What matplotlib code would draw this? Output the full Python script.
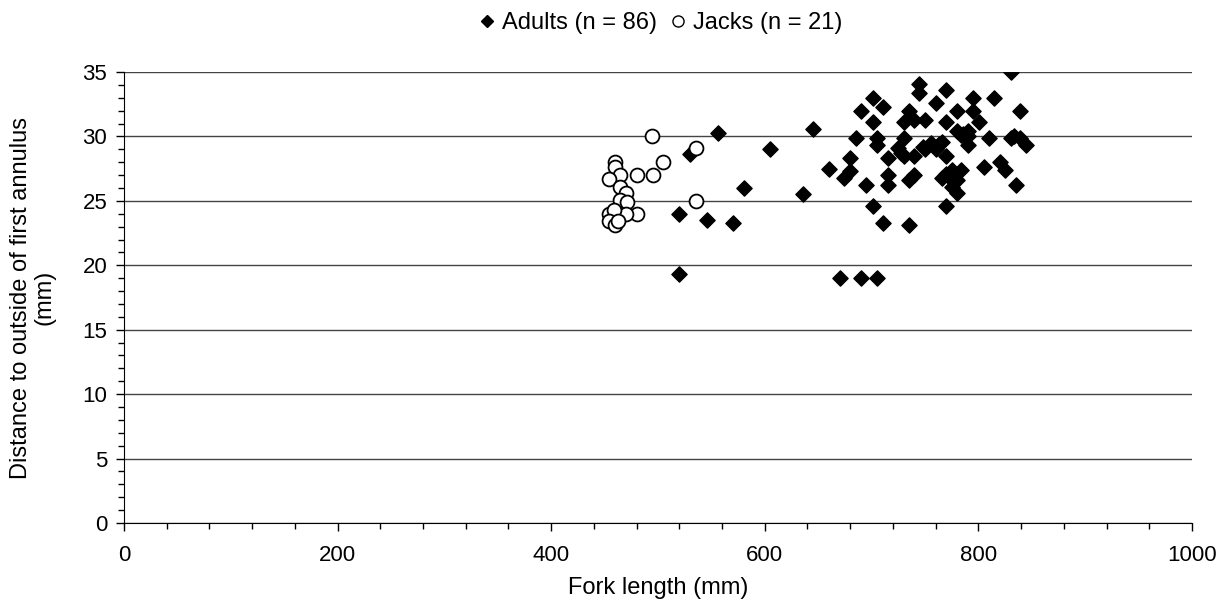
import matplotlib.pyplot as plt
from matplotlib.lines import Line2D
from matplotlib.ticker import MultipleLocator

plt.rcParams["font.family"] = ["Liberation Sans", "DejaVu Sans"]
plt.rcParams.update({'font.size': 16})

# Adults: fork length (mm) and distance to outside of first annulus (mm)
adult_fl = [556, 530, 605, 581, 520, 546, 570, 520, 636,
            645, 660, 674, 680, 680, 685, 690, 701, 701, 695, 701, 711, 705, 705,
            715, 715, 715, 711, 670, 690, 705, 730, 735, 740, 730, 725, 730, 740,
            735, 740, 735, 744, 744,
            831, 750, 770, 760, 750, 756, 760, 766, 770, 770, 766, 770, 775, 775,
            780, 770, 780, 780, 784, 790, 790, 790, 784, 780, 795, 795, 801, 805,
            810, 815, 820, 825, 831, 835, 839, 839, 845,
            772, 777, 786, 748, 763, 728, 833]
adult_d = [30.3, 28.6, 29.0, 26.0, 24.0, 23.5, 23.3, 19.3, 25.5,
           30.6, 27.5, 26.8, 27.3, 28.3, 29.9, 32.0, 33.0, 31.1, 26.2, 24.6, 32.3, 29.9, 29.3,
           28.3, 27.0, 26.2, 23.3, 19.0, 19.0, 19.0, 31.1, 32.0, 31.3, 29.9, 29.1, 28.5, 28.5,
           26.6, 27.0, 23.1, 34.1, 33.4,
           35.0, 31.3, 33.6, 32.6, 29.0, 29.5, 29.0, 29.6, 31.1, 28.5, 26.8, 27.1, 27.4, 26.1,
           25.6, 24.6, 32.0, 30.4, 30.1, 30.4, 30.0, 29.3, 27.4, 26.6, 33.0, 32.0, 31.1, 27.6,
           29.9, 33.0, 28.0, 27.4, 29.9, 26.2, 32.0, 29.9, 29.3,
           26.9, 26.6, 30.2, 29.2, 29.4, 28.7, 30.0]

# Jacks
jack_fl = [494, 505, 495, 480, 460, 460, 464, 454, 464, 470, 464, 471, 480, 470,
           454, 459, 454, 460, 463, 536, 536]
jack_d = [30.0, 28.0, 27.0, 27.0, 28.0, 27.6, 27.0, 26.7, 26.1, 25.6, 25.1, 24.9, 24.0, 24.0,
          24.0, 24.3, 23.4, 23.1, 23.4, 29.1, 25.0]

fig = plt.figure(figsize=(12.32, 6.15), dpi=100)
ax = fig.add_axes([0.1006, 0.1496, 0.8669, 0.7333])

ax.scatter(adult_fl, adult_d, marker='D', s=60, color='black', zorder=3)
ax.scatter(jack_fl, jack_d, marker='o', s=100, facecolor='white', edgecolor='black',
           linewidth=1.3, zorder=4)

ax.set_xlim(0, 1000)
ax.set_ylim(0, 35)
ax.xaxis.set_major_locator(MultipleLocator(200))
ax.xaxis.set_minor_locator(MultipleLocator(40))
ax.yaxis.set_major_locator(MultipleLocator(5))
ax.yaxis.set_minor_locator(MultipleLocator(1))
ax.tick_params(which='major', direction='out', length=6, width=1)
ax.tick_params(which='minor', direction='out', length=4, width=1)
ax.tick_params(axis='x', which='major', pad=10)
ax.tick_params(axis='y', which='major', pad=6)

ax.grid(axis='y', which='major', color='#444444', linewidth=1)
ax.set_axisbelow(True)
for s in ['top', 'right']:
    ax.spines[s].set_visible(False)

ax.set_xlabel('Fork length (mm)', fontsize=17, labelpad=8)
ax.set_ylabel('Distance to outside of first annulus\n(mm)', fontsize=17, linespacing=1.1)
ax.yaxis.set_label_coords(-0.064, 0.5)

handles = [Line2D([], [], marker='D', color='black', linestyle='none', markersize=6),
           Line2D([], [], marker='o', markerfacecolor='white', markeredgecolor='black',
                  linestyle='none', markersize=8)]
fig.legend(handles, ['Adults (n = 86)', 'Jacks (n = 21)'], loc='upper center',
           bbox_to_anchor=(0.5365, 1.015), ncol=2, frameon=False, handletextpad=0.34,
           columnspacing=0.6, handlelength=0.6, fontsize=17)

fig.savefig('out.png', dpi=100)
